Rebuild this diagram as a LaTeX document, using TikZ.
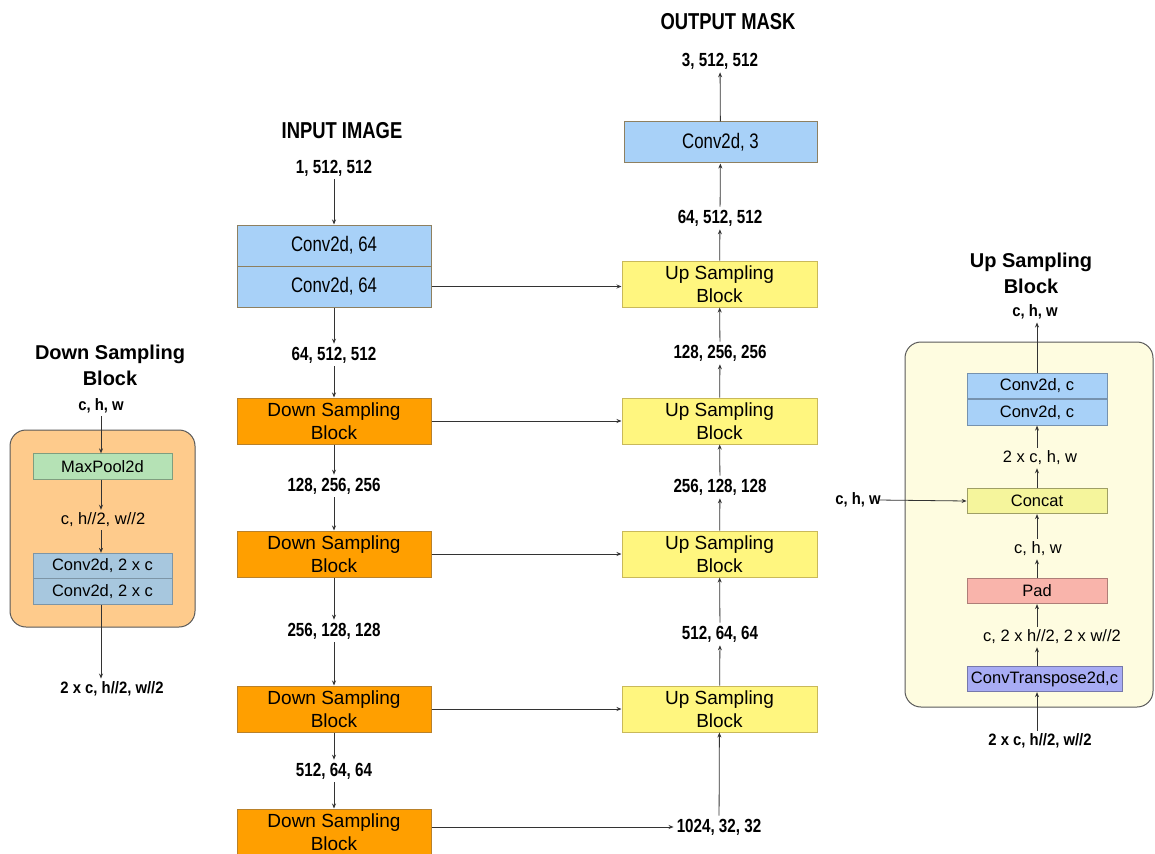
\documentclass[tikz,border=0pt]{standalone}
\usepackage{fontspec}
\setmainfont{Liberation Sans}
\newfontfamily\cond{Liberation Sans}[FakeStretch=0.8]
\newfontfamily\semicond{Liberation Sans}[FakeStretch=0.9]
\usetikzlibrary{arrows.meta}
\definecolor{cblue}{HTML}{A8D1F8}
\definecolor{cblueb}{HTML}{8E8060}
\definecolor{corange}{HTML}{FF9F00}
\definecolor{corangeb}{HTML}{B9812A}
\definecolor{cyellow}{HTML}{FFF67F}
\definecolor{cyellowb}{HTML}{C9B95A}
\definecolor{lorange}{HTML}{FECB8C}
\definecolor{lgreen}{HTML}{B5E2B5}
\definecolor{lsteel}{HTML}{A7C7DE}
\definecolor{lyellow}{HTML}{FEFCE0}
\definecolor{concatc}{HTML}{F5F59C}
\definecolor{padc}{HTML}{F9B4AB}
\definecolor{lav}{HTML}{A8ACF4}
\definecolor{linec}{HTML}{333333}
\tikzset{
  arr/.style={draw=linec, line width=0.8pt, -{Stealth[length=5pt,width=4pt]}},
  bigbox/.style={draw, line width=1pt, minimum width=194pt, inner sep=0pt, align=center},
  convbox/.style={bigbox, fill=cblue, draw=cblueb, minimum height=41pt, font=\cond\fontsize{21}{24}\selectfont},
  dsbox/.style={bigbox, fill=corange, draw=corangeb, minimum height=46pt, font=\fontsize{19}{23}\selectfont},
  usbox/.style={bigbox, fill=cyellow, draw=cyellowb, minimum height=46pt, minimum width=195pt, font=\fontsize{19}{23}\selectfont},
  num/.style={inner sep=3pt, font=\cond\bfseries\fontsize{19}{22}\selectfont},
  ttl/.style={inner sep=2pt, font=\cond\bfseries\fontsize{23}{26}\selectfont},
  ptitle/.style={inner sep=2pt, align=center, font=\bfseries\fontsize{20}{26}\selectfont},
  plab/.style={inner sep=3pt, font=\fontsize{16.5}{20}\selectfont},
  pbold/.style={inner sep=3pt, font=\semicond\bfseries\fontsize{16.5}{20}\selectfont},
  smallbox/.style={draw, line width=0.8pt, minimum width=139pt, minimum height=25.5pt, inner sep=0pt, font=\fontsize{16.5}{20}\selectfont},
  panel/.style={draw=black!65, line width=1pt, rounded corners=16pt}
}
\begin{document}
\begin{tikzpicture}[x=1pt,y=-1pt]
\useasboundingbox (0,0) rectangle (1155,853);
\clip (0,0) rectangle (1155,853);
\fill[white] (0,0) rectangle (1155,853);

% ---------- centre: encoder ----------
\node[ttl] (tin) at (342,131) {INPUT IMAGE};
\node[num] (lin) at (334,168) {1, 512, 512};
\node[convbox] (c1) at (334,245.5) {Conv2d, 64};
\node[convbox] (c2) at (334,286.5) {Conv2d, 64};
\node[num] (l64) at (334,355) {64, 512, 512};
\node[dsbox] (d1) at (334,421) {Down Sampling\\Block};
\node[num] (l128) at (334,486) {128, 256, 256};
\node[dsbox] (d2) at (334,554) {Down Sampling\\Block};
\node[num] (l256) at (334,631) {256, 128, 128};
\node[dsbox] (d3) at (334,709) {Down Sampling\\Block};
\node[num] (l512) at (334,771) {512, 64, 64};
\node[dsbox] (d4) at (334,832) {Down Sampling\\Block};

\draw[arr] (lin) -- (c1);
\draw[arr] (c2) -- (l64);
\draw[arr] (l64) -- (d1);
\draw[arr] (d1) -- (l128);
\draw[arr] (l128) -- (d2);
\draw[arr] (d2) -- (l256);
\draw[arr] (l256) -- (d3);
\draw[arr] (d3) -- (l512);
\draw[arr] (l512) -- (d4);

% ---------- centre: decoder ----------
\node[ttl] (tout) at (728,22) {OUTPUT MASK};
\node[num] (o3) at (720,61) {3, 512, 512};
\node[convbox, minimum width=193pt] (c3) at (720.5,142.5) {Conv2d, 3};
\node[num] (o64) at (720,218) {64, 512, 512};
\node[usbox] (u1) at (719.5,284) {Up Sampling\\Block};
\node[num] (o128) at (720,353) {128, 256, 256};
\node[usbox] (u2) at (719.5,421) {Up Sampling\\Block};
\node[num] (o256) at (720,487) {256, 128, 128};
\node[usbox] (u3) at (719.5,554) {Up Sampling\\Block};
\node[num] (o512) at (720,634) {512, 64, 64};
\node[usbox] (u4) at (719.5,709) {Up Sampling\\Block};
\node[num] (o1024) at (719,827) {1024, 32, 32};

\draw[arr] (o1024) -- (u4);
\draw[arr] (u4) -- (o512);
\draw[arr] (o512) -- (u3);
\draw[arr] (u3) -- (o256);
\draw[arr] (o256) -- (u2);
\draw[arr] (u2) -- (o128);
\draw[arr] (o128) -- (u1);
\draw[arr] (u1) -- (o64);
\draw[arr] (o64) -- (c3);
\draw[arr] (c3) -- (o3);

% skip connections
\draw[arr] (c2.east) -- (c2.east -| u1.west);
\draw[arr] (d1.east) -- (d1.east -| u2.west);
\draw[arr] (d2.east) -- (d2.east -| u3.west);
\draw[arr] (d3.east) -- (d3.east -| u4.west);
\draw[arr] (o1024.west -| d4.east) -- (o1024.west);

% ---------- left panel: down sampling block ----------
\node[ptitle] (dtitle) at (110,365) {Down Sampling\\Block};
\draw[panel, fill=lorange] (10,430) rectangle (195,627);
\node[pbold] (dchw) at (101,406) {c, h, w};
\node[smallbox, fill=lgreen, draw=lgreen!70!black] (mp) at (102.5,466.5) {MaxPool2d};
\node[plab] (dh2) at (103,520) {c, h//2, w//2};
\node[smallbox, fill=lsteel, draw=lsteel!75!black] (dc1) at (102.5,566) {Conv2d, 2 x c};
\node[smallbox, fill=lsteel, draw=lsteel!75!black] (dc2) at (102.5,591.5) {Conv2d, 2 x c};
\node[pbold] (dout) at (112,689) {2 x c, h//2, w//2};

\draw[arr] (dchw.south -| 101,0) -- (mp.north -| 101,0);
\draw[arr] (mp.south -| 101,0) -- (dh2.north -| 101,0);
\draw[arr] (dh2.south -| 101,0) -- (dc1.north -| 101,0);
\draw[arr] (dc2.south -| 101,0) -- (dout.north -| 101,0);

% ---------- right panel: up sampling block ----------
\node[ptitle] (utitle) at (1031,273) {Up Sampling\\Block};
\draw[panel, fill=lyellow] (905,342) rectangle (1153,707);
\node[pbold] (uchw) at (1035,312) {c, h, w};
\node[smallbox, minimum width=140pt, fill=cblue, draw=cblue!70!black] (uc1) at (1037,386) {Conv2d, c};
\node[smallbox, minimum width=140pt, fill=cblue, draw=cblue!70!black] (uc2) at (1037,412.5) {Conv2d, c};
\node[plab] (u2chw) at (1040,458) {2 x c, h, w};
\node[smallbox, minimum width=140pt, fill=concatc, draw=concatc!65!black] (cat) at (1037,501) {Concat};
\node[plab] (uchw2) at (1038,549) {c, h, w};
\node[smallbox, minimum width=140pt, fill=padc, draw=padc!70!black] (pad) at (1037,591) {Pad};
\node[plab] (ulab) at (1052,637) {c, 2 x h//2, 2 x w//2};
\node[smallbox, minimum width=155pt, fill=lav, draw=lav!70!black] (ct) at (1044.5,679) {ConvTranspose2d,c};
\node[pbold] (uin) at (1040,741) {2 x c, h//2, w//2};
\node[pbold] (side) at (858,500) {c, h, w};

\draw[arr] (uin.north -| pad.south) -- (ct.south -| pad.south);
\draw[arr] (ct.north -| pad.south) -- (ulab.south -| pad.south);
\draw[arr] (ulab.north -| pad.south) -- (pad.south);
\draw[arr] (pad.north) -- (uchw2.south -| pad.north);
\draw[arr] (uchw2.north -| pad.north) -- (cat.south);
\draw[arr] (cat.north) -- (u2chw.south -| cat.north);
\draw[arr] (u2chw.north -| cat.north) -- (uc2.south);
\draw[arr] (uc1.north) -- (uchw.south -| uc1.north);
\draw[arr] ([xshift=-6pt]side.east) -- (cat.west);
\end{tikzpicture}
\end{document}
